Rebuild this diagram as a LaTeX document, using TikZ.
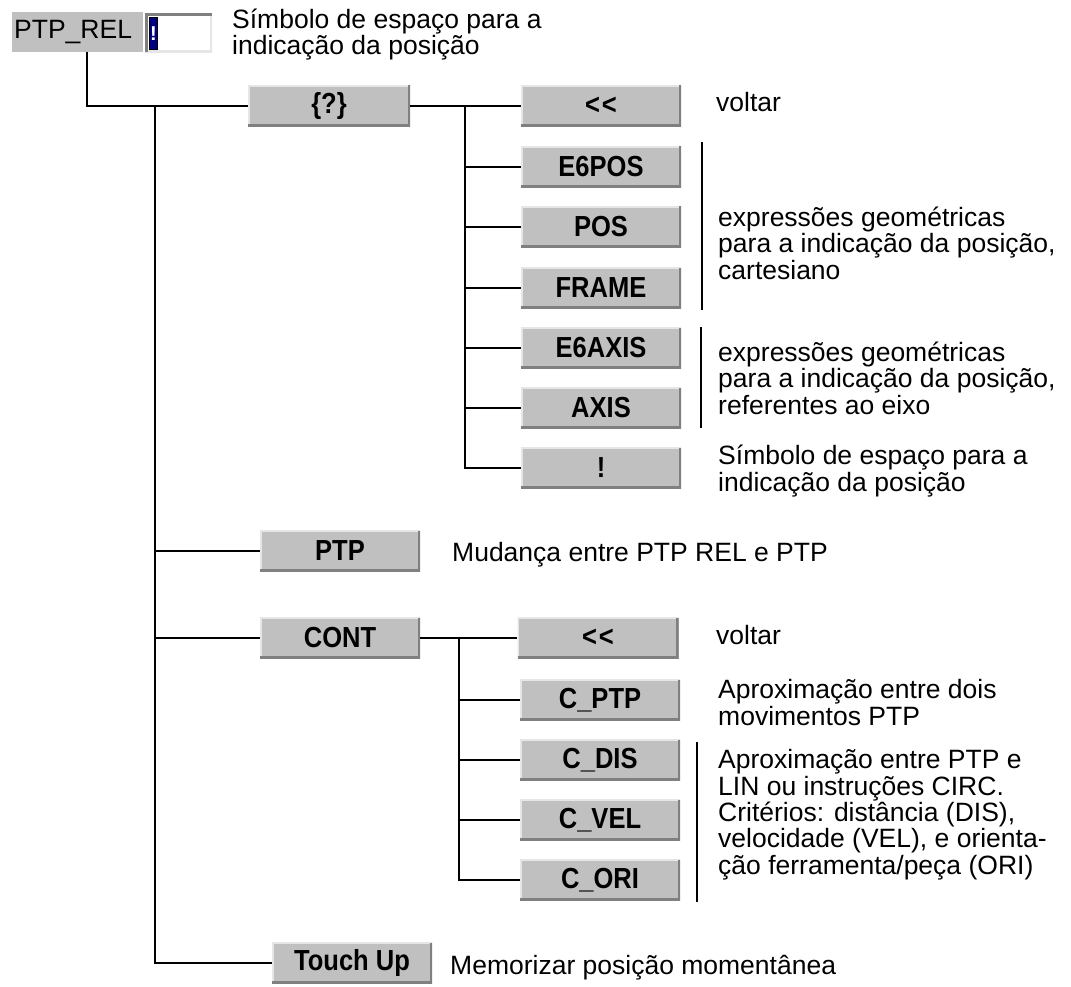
\documentclass[tikz,border=0pt]{standalone}
\usepackage{fontspec}
\setmainfont{Liberation Sans}
\newfontfamily\btnfont{Liberation Sans}[FakeStretch=0.88]
\definecolor{btnface}{HTML}{C0C0C0}
\definecolor{btnshadow}{HTML}{808080}
\definecolor{btnlight}{HTML}{E6E6E6}
\definecolor{caret}{HTML}{000080}

\tikzset{
  btn/.style={minimum width=160pt, minimum height=41pt, inner sep=0pt, fill=btnface,
    font=\btnfont\bfseries\fontsize{29}{29}\selectfont,
    path picture={
      \draw[btnlight, line width=3pt]
        (path picture bounding box.south west) -- (path picture bounding box.north west)
        -- (path picture bounding box.north east);
      \draw[btnshadow, line width=5pt]
        (path picture bounding box.south west) -- (path picture bounding box.south east)
        -- (path picture bounding box.north east);
    }},
  wire/.style={line width=2.8pt},
  bracket/.style={line width=2.2pt},
  % multi-line texts are placed by the baseline of their last line
  desc/.style={anchor=base west, align=left, inner sep=0pt,
    font=\fontsize{26.5}{26.3}\selectfont},
}

\begin{document}
\begin{tikzpicture}[x=1pt, y=-1pt]
\useasboundingbox (0,0) rectangle (1071,987);

% header: command name with its input field
\node[fill=btnface, anchor=north west, minimum height=40pt, text width=127pt,
      inner xsep=2pt, inner ysep=0pt, align=left,
      font=\fontsize{26.5}{26.5}\selectfont] (ptprel) at (12,12) {PTP\_REL};
\node[fill=white, anchor=north west, minimum width=67pt, minimum height=39pt, inner sep=0pt,
      path picture={
        \draw[btnlight, line width=4pt]
          (path picture bounding box.south west) -- (path picture bounding box.south east)
          -- (path picture bounding box.north east);
        \draw[btnshadow, line width=5pt]
          (path picture bounding box.south west) -- (path picture bounding box.north west)
          -- (path picture bounding box.north east);
      }] (field) at (145,13) {};
\node[fill=caret, draw=black, line width=0.8pt, anchor=north west, minimum width=8pt,
      minimum height=32pt, inner sep=0pt, text=white,
      font=\bfseries\fontsize{20}{20}\selectfont] (cursor) at (149,17) {!};
\node[desc] (d0) at (232,55) {Símbolo de espaço para a\\indicação da posição};

% first level
\node[btn, minimum width=162pt] (q) at (329,106) {\{?\}};
\node[btn] (ptp) at (340,551) {PTP};
\node[btn] (cont) at (340,638) {CONT};
\node[btn] (tu) at (352,963) {Touch Up};

% position expressions
\node[btn] (back1) at (601,106) {<\kern2pt<};
\node[btn] (e6pos) at (601,167) {E6POS};
\node[btn] (pos) at (601,227) {POS};
\node[btn] (frame) at (601,288) {FRAME};
\node[btn] (e6axis) at (601,348) {E6AXIS};
\node[btn] (axis) at (601,408) {AXIS};
\node[btn] (excl) at (601,468) {!};

% approximation options
\node[btn, minimum width=161pt] (back2) at (598,638) {<\kern2pt<};
\node[btn] (cptp) at (600,700) {C\_PTP};
\node[btn] (cdis) at (600,760) {C\_DIS};
\node[btn] (cvel) at (600,820) {C\_VEL};
\node[btn] (cori) at (600,880) {C\_ORI};

% tree connectors
\coordinate (stem) at (87,106);
\coordinate (trunk) at (155,106);
\coordinate (s1) at (465,106);
\coordinate (s2) at (459,638);
\draw[wire] (ptprel.south -| stem) -- (stem) -- (q.west);
\draw[wire] (trunk) |- (tu.west);
\draw[wire] (ptp.west) -- (ptp.west -| trunk);
\draw[wire] (cont.west) -- (cont.west -| trunk);
\draw[wire] (q.east) -- (back1.west);
\draw[wire] (s1) |- (excl.west);
\foreach \n in {e6pos,pos,frame,e6axis,axis}
  \draw[wire] (\n.west) -- (\n.west -| s1);
\draw[wire] (cont.east) -- (back2.west);
\draw[wire] (s2) |- (cori.west);
\foreach \n in {cptp,cdis,cvel}
  \draw[wire] (\n.west) -- (\n.west -| s2);

% group brackets
\draw[bracket] (702,142) -- (702,310);
\draw[bracket] (701,327) -- (701,428);
\draw[bracket] (697,742) -- (697,902);

% explanations
\node[desc] (t1) at (716,112) {voltar};
\node[desc] (t2) at (718,279) {expressões geométricas\\para a indicação da posição,\\cartesiano};
\node[desc] (t3) at (718,414) {expressões geométricas\\para a indicação da posição,\\referentes ao eixo};
\node[desc] (t4) at (718,491) {Símbolo de espaço para a\\indicação da posição};
\node[desc] (t5) at (452,561) {Mudança entre PTP REL e PTP};
\node[desc] (t6) at (716,644) {voltar};
\node[desc] (t7) at (718,725) {Aproximação entre dois\\movimentos PTP};
\node[desc] (t8) at (718,874) {Aproximação entre PTP e\\LIN ou instruções CIRC.\\Critérios: distância (DIS),\\velocidade (VEL), e orienta-\\ção ferramenta/peça (ORI)};
\node[desc] (t9) at (450,974) {Memorizar posição momentânea};
\end{tikzpicture}
\end{document}
